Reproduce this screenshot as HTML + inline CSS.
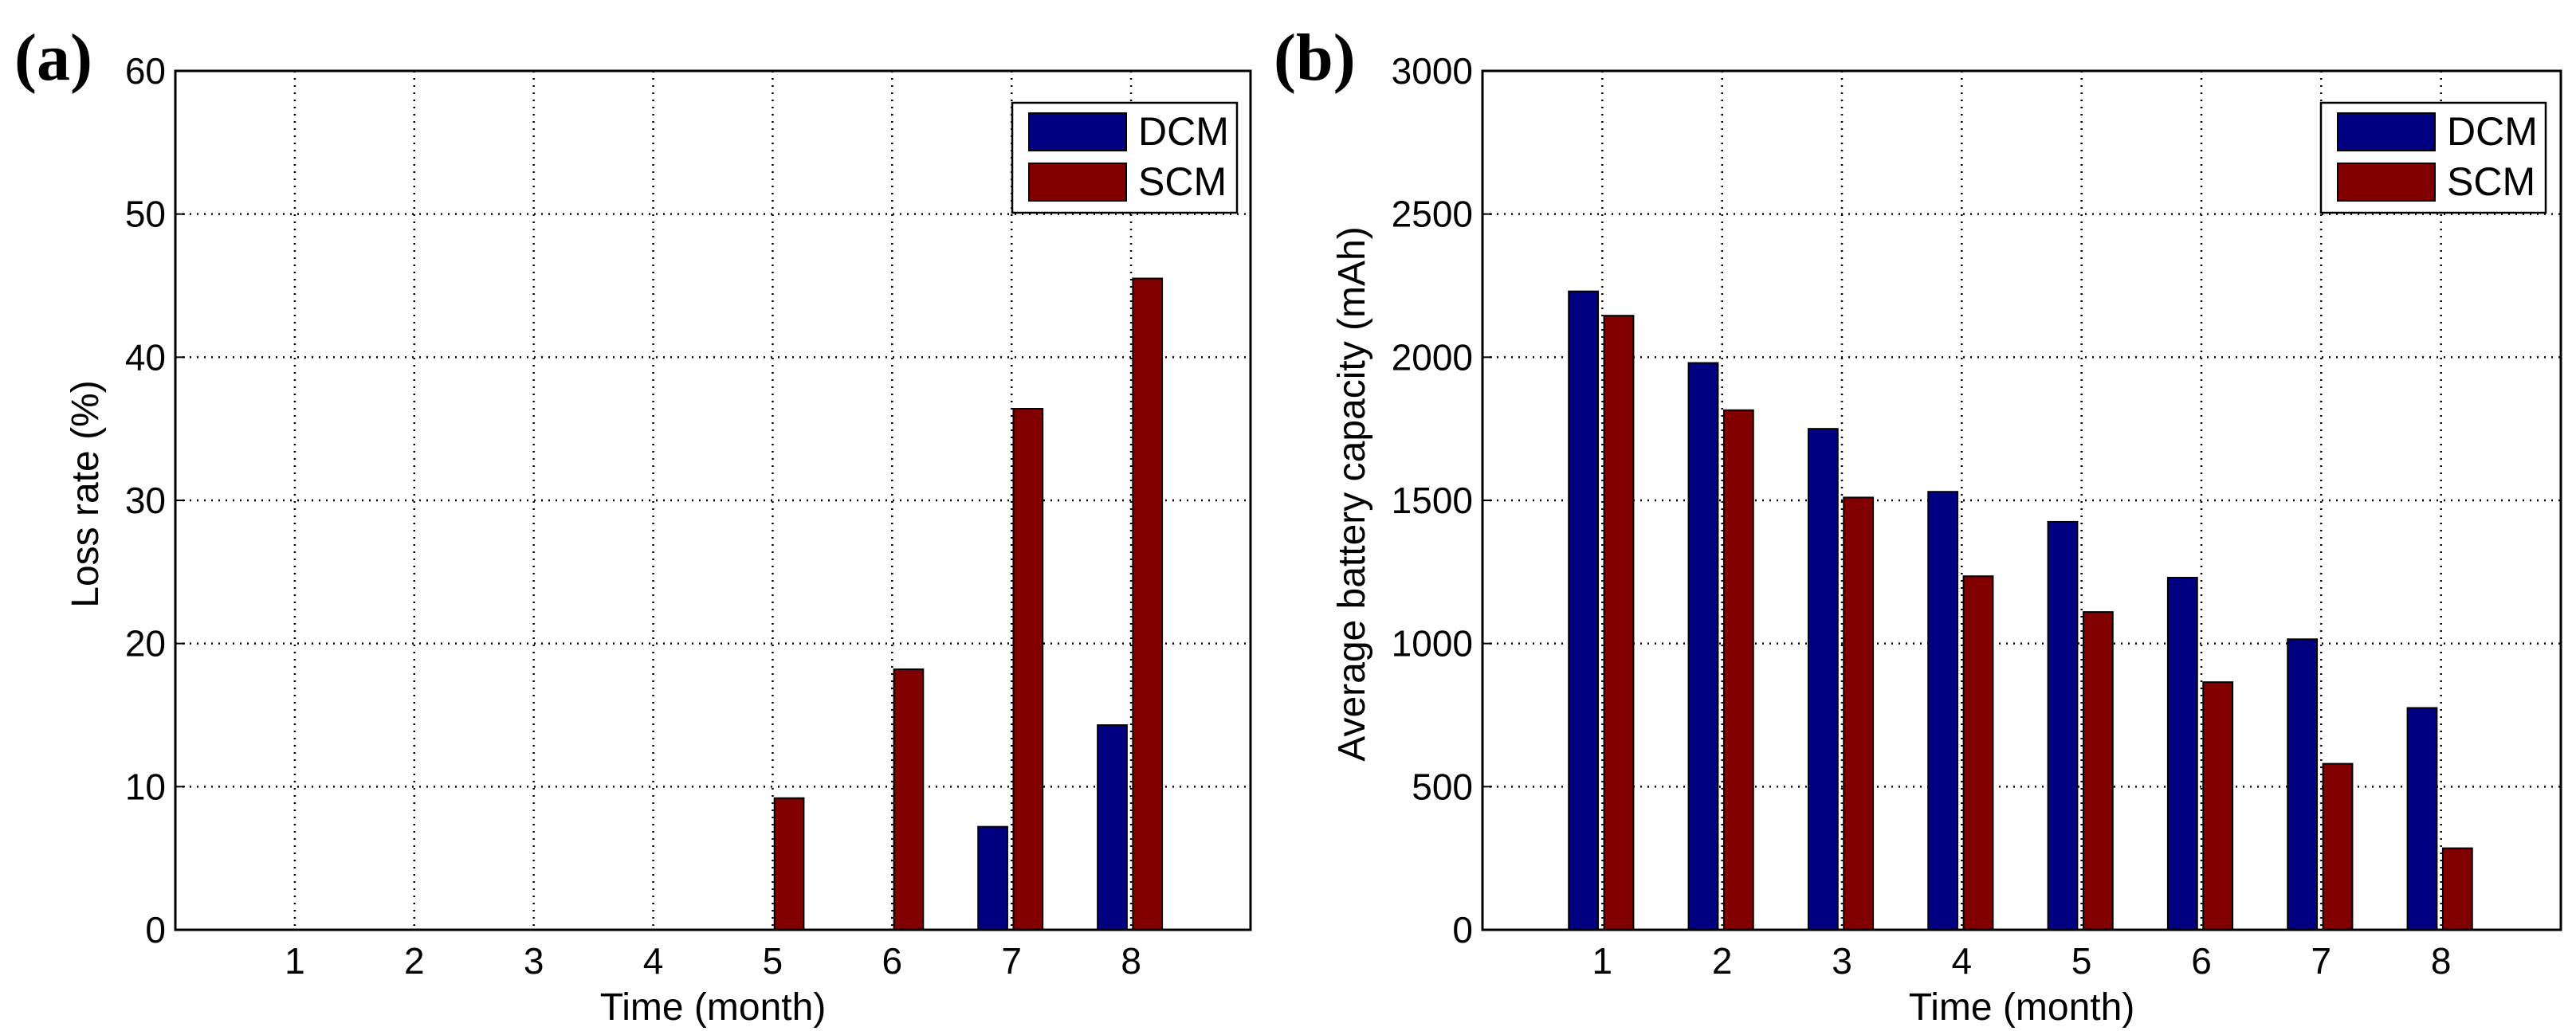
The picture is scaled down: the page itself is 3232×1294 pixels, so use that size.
<!DOCTYPE html>
<html><head><meta charset="utf-8"><style>
html,body{margin:0;padding:0;background:#fff;}
svg{display:block;}
text{font-family:"Liberation Sans",Arial,sans-serif;fill:#000;}
</style></head><body>
<svg id="fig" width="3232" height="1294" viewBox="0 0 3232 1294" xmlns="http://www.w3.org/2000/svg">
<text x="18" y="100" font-family="Liberation Serif" font-weight="bold" font-size="84" style="font-family:'Liberation Serif',serif">(a)</text>
<text x="1598" y="100" font-weight="bold" font-size="84" style="font-family:'Liberation Serif',serif">(b)</text>
<g id="chartA"></g>
<g id="chartB"></g>
</svg>
<script>
const categories = [1,2,3,4,5,6,7,8];
const lossDCM = [0,0,0,0,0,0,7.2,14.3];
const lossSCM = [0,0,0,0,9.2,18.2,36.4,45.5];
const capDCM = [2230,1980,1750,1530,1425,1230,1015,775];
const capSCM = [2145,1815,1510,1235,1110,865,580,285];
const lossTicks = [0,10,20,30,40,50,60];
const capTicks = [0,500,1000,1500,2000,2500,3000];
const seriesNames = ['DCM','SCM'];

const NS='http://www.w3.org/2000/svg';
function mk(parent,tag,attrs,txt){const e=document.createElementNS(NS,tag);for(const k in attrs)e.setAttribute(k,attrs[k]);if(txt!==undefined)e.textContent=txt;parent.appendChild(e);return e;}

function drawChart(g,cfg){
  const L=cfg.left,R=cfg.right,T=89,B=1167;
  const xs=v=>L+(v/9)*(R-L);
  const ys=v=>B-(v/cfg.ymax)*(B-T);
  const unit=(R-L)/9;
  // grid
  cfg.yticks.forEach(t=>{
    const y=ys(t);
    if(t>0&&t<cfg.ymax){const l=mk(g,'line',{x1:L,x2:R,y1:y,y2:y,stroke:'#000','stroke-width':2.5,'stroke-dasharray':'2 7'});
    
    }
    const tx=mk(g,'text',{x:L-12,y:y+16,'text-anchor':'end','font-size':46},String(t));
    
    
    const tk=mk(g,'line',{x1:L,x2:L+12,y1:y,y2:y,stroke:'#000','stroke-width':2});
    
    
  });
  categories.forEach(c=>{
    const x=xs(c);
    const l=mk(g,'line',{x1:x,x2:x,y1:T,y2:B,stroke:'#000','stroke-width':2.5,'stroke-dasharray':'2 7'});
    
    
    const tx=mk(g,'text',{x:x,y:1222,'text-anchor':'middle','font-size':46},String(c));
    
    
  });
  // bars
  const bw=unit*0.245;
  [[cfg.s1,'#000080',-0.28],[cfg.s2,'#800000',0.015]].forEach((s,si)=>{
    s[0].forEach((v,i)=>{
      if(v<=0)return;
      const x=xs(categories[i])+s[2]*unit;
      const r=mk(g,'rect',{x:x,y:ys(v),width:bw,height:B-ys(v),fill:s[1],stroke:'#000','stroke-width':2});
      
      
    });
  });
  // axes box
  const ax=mk(g,'rect',{x:L,y:T,width:R-L,height:B-T,fill:'none',stroke:'#000','stroke-width':3});
  
  
  // legend
  const lg=mk(g,'g',{});
  
  
  mk(lg,'rect',{x:cfg.lx,y:129,width:282,height:138,fill:'#fff',stroke:'#000','stroke-width':2.5});
  [['#000080',142],['#800000',205]].forEach((c,k)=>{
    const sw=mk(lg,'rect',{x:cfg.lx+21,y:c[1],width:122,height:47,fill:c[0],stroke:'#000','stroke-width':2});
    
    
    const t=mk(lg,'text',{x:cfg.lx+158,y:c[1]+40,'font-size':50},seriesNames[k]);
    
    
  });
  const xl=mk(g,'text',{x:(L+R)/2,y:1280,'text-anchor':'middle','font-size':48},'Time (month)');
  
  
  const yl=mk(g,'text',{x:0,y:0,'text-anchor':'middle','font-size':48,transform:'translate('+cfg.ylx+',620) rotate(-90)'},cfg.ylabel);
  
  
}
drawChart(document.getElementById('chartA'),{left:220,right:1569,ymax:60,yticks:lossTicks,s1:lossDCM,s2:lossSCM,lx:1270,ylx:123,ylabel:'Loss rate (%)'});
drawChart(document.getElementById('chartB'),{left:1860,right:3213,ymax:3000,yticks:capTicks,s1:capDCM,s2:capSCM,lx:2912,ylx:1712,ylabel:'Average battery capacity (mAh)'});
</script>
</body></html>
